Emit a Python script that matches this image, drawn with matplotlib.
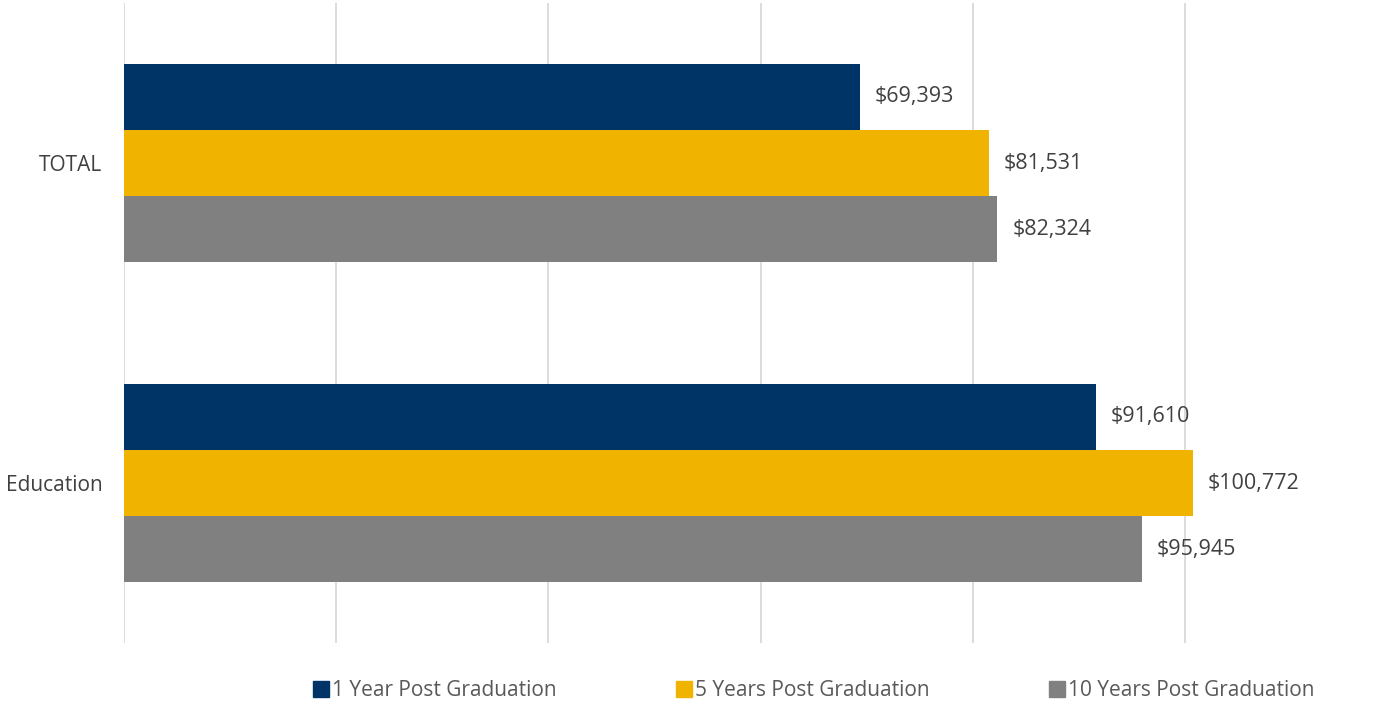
import numpy as np
import matplotlib.pyplot as plt
from matplotlib.lines import Line2D

# data
categories = ["TOTAL", "Education"]
series_names = ["1 Year Post Graduation", "5 Years Post Graduation", "10 Years Post Graduation"]
one_year = [69393, 91610]
five_years = [81531, 100772]
ten_years = [82324, 95945]
colors = ["#003366", "#F0B400", "#808080"]

plt.rcParams["font.family"] = ["Open Sans", "DejaVu Sans"]

fig = plt.figure(figsize=(13.97, 7.07), dpi=100)
ax = fig.add_axes([124 / 1397, 1 - 643 / 707, 1 - 124 / 1397, 640 / 707])

y = np.arange(len(categories))
h = 0.207
for i, (vals, col) in enumerate(zip([one_year, five_years, ten_years], colors)):
    pos = y + (i - 1) * h
    ax.barh(pos, vals, height=h, color=col, zorder=2)
    for p, v in zip(pos, vals):
        ax.text(v + 1400, p, f"${v:,}", va="center", ha="left", fontsize=15.5, color="#404040")

ax.set_xlim(0, 120000)
ax.set_ylim(1.5, -0.5)
ax.set_xticks(np.arange(0, 100001, 20000))
ax.set_xticklabels([])
ax.tick_params(axis="x", length=0)
ax.set_yticks(y)
ax.set_yticklabels(categories, fontsize=15, color="#404040")
ax.tick_params(axis="y", length=0, pad=15.5)
ax.grid(axis="x", color="#D9D9D9", linewidth=1.3, zorder=0)
for s in ax.spines.values():
    s.set_visible(False)

handles = [Line2D([], [], marker="s", linestyle="none", markersize=11, color=c) for c in colors]
fig.legend(handles, series_names, loc="center", bbox_to_anchor=(0.582, 1 - 691 / 707), ncol=3,
           frameon=False, fontsize=15, labelcolor="#595959", handletextpad=0.1,
           columnspacing=5.65, handlelength=0.9)

fig.savefig("out.png", dpi=100)
